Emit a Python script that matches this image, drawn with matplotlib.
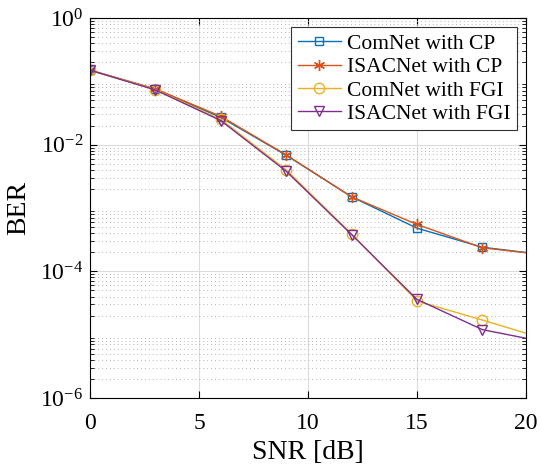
import numpy as np
from matplotlib import pyplot as plt
from matplotlib.ticker import LogLocator, NullFormatter, FixedLocator

plt.rcParams['font.family'] = 'Liberation Serif'
plt.rcParams['mathtext.fontset'] = 'custom'
plt.rcParams['mathtext.rm'] = 'Liberation Serif'
plt.rcParams['mathtext.it'] = 'Liberation Serif:italic'

# SNR in dB (last point lies past the axis limit, line is clipped)
snr = [0, 3, 6, 9, 12, 15, 18, 21]

comnet_cp = [0.15, 0.075, 0.027, 0.0068, 0.0015, 4.8e-4, 2.4e-4, 1.8e-4]
isacnet_cp = [0.15, 0.076, 0.028, 0.0069, 0.0015, 5.5e-4, 2.35e-4, 1.8e-4]
comnet_fgi = [0.15, 0.074, 0.025, 0.0040, 3.9e-4, 3.4e-5, 1.7e-5, 8.3e-6]
isacnet_fgi = [0.15, 0.073, 0.024, 0.0038, 3.8e-4, 3.6e-5, 1.2e-5, 7.5e-6]

labels = ['ComNet with CP', 'ISACNet with CP', 'ComNet with FGI', 'ISACNet with FGI']
colors = ['#0072BD', '#D95319', '#EDB120', '#7E2F8E']
markers = ['s', (6, 2, 0), 'o', 'v']
msizes = [6, 8, 7.5, 7.5]

fig = plt.figure(figsize=(5.42, 4.68), dpi=100)
ax = fig.add_axes([0.166, 0.1496, 0.8045, 0.812])

series = [comnet_cp, isacnet_cp, comnet_fgi, isacnet_fgi]
for ys, lab, c, m, ms in zip(series, labels, colors, markers, msizes):
    ax.semilogy(snr, ys, color=c, marker=m, markersize=ms, markerfacecolor='none',
                markeredgewidth=1.0, linewidth=1.0, label=lab)

ax.set_xlim(0, 20)
ax.set_ylim(1e-6, 1)
ax.xaxis.set_major_locator(FixedLocator([0, 5, 10, 15, 20]))
ax.yaxis.set_major_locator(FixedLocator([1e-6, 1e-4, 1e-2, 1]))
ax.set_yticklabels([r'$10^{-6}$', r'$10^{-4}$', r'$10^{-2}$', r'$10^{0}$'])
ax.yaxis.set_minor_locator(LogLocator(base=10, subs=np.arange(2, 10), numticks=20))
ax.yaxis.set_minor_formatter(NullFormatter())

ax.grid(True, which='major', color='#dcdcdc', linewidth=0.8)
ax.grid(True, which='minor', axis='y', color='#b4b4b4', linestyle=(0, (1, 3)), linewidth=0.7)
ax.set_axisbelow(True)

ax.tick_params(which='both', direction='in', top=True, right=True, labelsize=17)
ax.tick_params(axis='x', pad=11)
ax.tick_params(axis='y', pad=5)
ax.tick_params(which='major', length=5)
ax.tick_params(which='minor', length=3)
for s in ax.spines.values():
    s.set_linewidth(0.8)

ax.set_xlabel('SNR [dB]', fontsize=20, labelpad=4)
ax.set_ylabel('BER', fontsize=20, labelpad=6)

leg = ax.legend(loc='upper right', bbox_to_anchor=(0.98, 0.975), fontsize=15.5,
                fancybox=False, framealpha=1, edgecolor='#333333', handlelength=2.0,
                handletextpad=0.3, borderpad=0.3, labelspacing=0.15, borderaxespad=0)
leg.get_frame().set_linewidth(0.8)

fig.savefig('out.png', dpi=100)
